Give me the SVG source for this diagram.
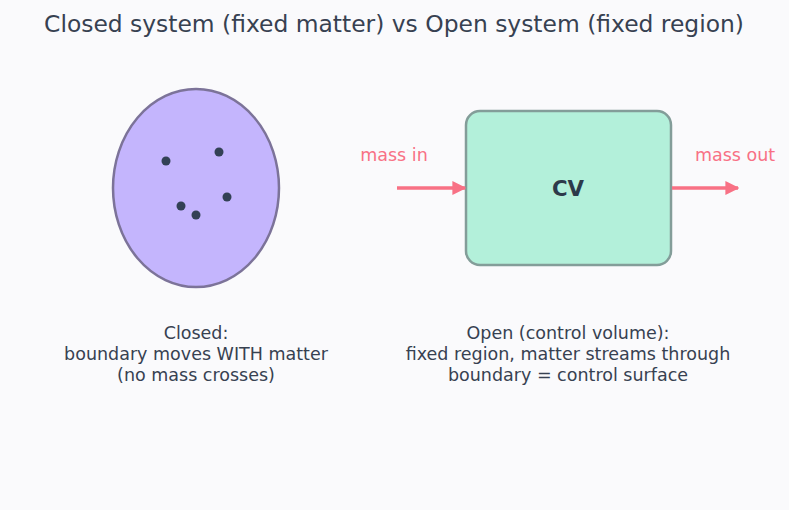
<svg xmlns="http://www.w3.org/2000/svg" width="789" height="510" viewBox="0 0 789 510">
<defs>
<marker id="ah" viewBox="0 0 10 10" refX="9" refY="5" markerWidth="4" markerHeight="4" orient="auto" markerUnits="strokeWidth">
<path d="M0,0 L10,5 L0,10 z" fill="#f87185"/>
</marker>
<style>
text{font-family:"DejaVu Sans","Liberation Sans",sans-serif;}
.t{font-size:23.4px;fill:#374151;text-anchor:middle;}
.lbl{font-size:17.5px;fill:#374151;text-anchor:middle;}
.ml{font-size:17.5px;fill:#f87185;text-anchor:middle;}
.dot{fill:#334155;}
.arr{stroke:#f87185;stroke-width:3.5;fill:none;marker-end:url(#ah);}
</style>
</defs>
<rect width="789" height="510" fill="#fafafc"/>
<text class="t" x="394" y="32">Closed system (fixed matter) vs Open system (fixed region)</text>
<g id="closed">
<ellipse cx="196" cy="188" rx="83" ry="99" fill="#c4b5fd" stroke="#7c7399" stroke-width="2.5"/>
<circle class="dot" cx="166" cy="161" r="4.5"/>
<circle class="dot" cx="219" cy="152" r="4.5"/>
<circle class="dot" cx="227" cy="197" r="4.5"/>
<circle class="dot" cx="181" cy="206" r="4.5"/>
<circle class="dot" cx="196" cy="215" r="4.5"/>
</g>
<g id="cv">
<rect x="466" y="111" width="205" height="154" rx="14" fill="#b3f0da" stroke="#839d99" stroke-width="2.5"/>
<text x="568" y="195.5" font-size="21.3" font-weight="bold" fill="#2d3a4a" text-anchor="middle">CV</text>
</g>
<g id="connectors">
<line class="arr" x1="397" y1="188" x2="465" y2="188"/>
<line class="arr" x1="672" y1="188" x2="738" y2="188"/>
</g>
<g id="labels">
<text class="ml" x="394" y="160.5">mass in</text>
<text class="ml" x="735" y="160.5">mass out</text>
<text class="lbl" x="196" y="338.5">Closed:</text>
<text class="lbl" x="196" y="359.5">boundary moves WITH matter</text>
<text class="lbl" x="196" y="380.5">(no mass crosses)</text>
<text class="lbl" x="568" y="338.5">Open (control volume):</text>
<text class="lbl" x="568" y="359.5">fixed region, matter streams through</text>
<text class="lbl" x="568" y="380.5">boundary = control surface</text>
</g>
</svg>
